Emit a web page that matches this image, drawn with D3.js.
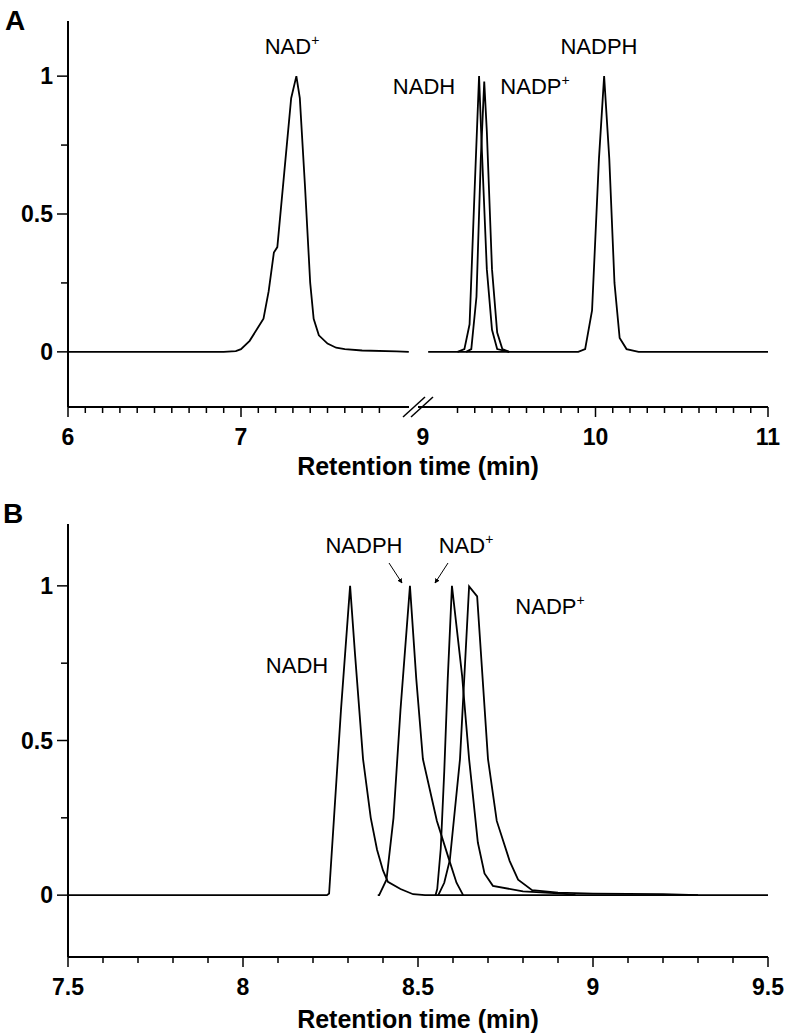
<!DOCTYPE html>
<html>
<head>
<meta charset="utf-8">
<script src="https://cdn.jsdelivr.net/npm/d3@7"></script>
<style>
  body { margin: 0; background: #fff; }
  text { font-family: Arial, "Liberation Sans", sans-serif; }
</style>
</head>
<body>
<svg id="chart" width="792" height="1036"></svg>
<script>
// Panel A peaks: [time (min), normalised intensity]
const aNADplus = [[6.0,0],[6.9,0],[6.97,0.003],[7.0,0.01],[7.05,0.04],[7.1,0.09],[7.13,0.12],[7.16,0.22],[7.19,0.36],[7.21,0.38],[7.25,0.65],[7.29,0.92],[7.32,1.0],[7.34,0.92],[7.37,0.6],[7.4,0.25],[7.42,0.12],[7.45,0.06],[7.5,0.03],[7.55,0.015],[7.6,0.01],[7.7,0.005],[7.9,0.002],[7.97,0]]
const aNADH = [[9.2,0],[9.24,0.01],[9.27,0.1],[9.3,0.6],[9.325,1.0],[9.34,0.75],[9.37,0.3],[9.4,0.08],[9.43,0.01],[9.5,0]]
const aNADPplus = [[9.25,0],[9.28,0.01],[9.31,0.2],[9.335,0.7],[9.355,0.98],[9.37,0.8],[9.4,0.3],[9.43,0.07],[9.46,0.01],[9.5,0]]
const aNADPH = [[9.03,0],[9.9,0],[9.94,0.01],[9.98,0.15],[10.02,0.7],[10.05,1.0],[10.08,0.7],[10.11,0.25],[10.14,0.05],[10.18,0.01],[10.25,0],[11,0]]

// Panel B peaks
const bNADH = [[7.5,0],[8.24,0],[8.246,0.005],[8.26,0.25],[8.28,0.6],[8.306,1.0],[8.32,0.78],[8.343,0.44],[8.365,0.25],[8.383,0.147],[8.4,0.08],[8.414,0.043],[8.45,0.02],[8.486,0.003],[8.52,0],[9.5,0]]
const bNADPH = [[8.385,0],[8.389,0],[8.41,0.05],[8.43,0.25],[8.45,0.6],[8.477,1.0],[8.495,0.7],[8.514,0.44],[8.554,0.24],[8.589,0.114],[8.61,0.04],[8.629,0]]
const bNADplus = [[8.55,0],[8.555,0.02],[8.565,0.15],[8.575,0.4],[8.585,0.7],[8.597,1.0],[8.626,0.71],[8.646,0.44],[8.671,0.17],[8.69,0.07],[8.714,0.03],[8.8,0.012],[8.914,0.005],[8.95,0]]
const bNADPplus = [[8.556,0],[8.558,0],[8.575,0.04],[8.591,0.114],[8.62,0.44],[8.646,0.998],[8.669,0.966],[8.7,0.44],[8.725,0.24],[8.762,0.11],[8.786,0.05],[8.826,0.016],[8.9,0.008],[9.0,0.005],[9.2,0.003],[9.3,0]]

const aTicksLeft = [6, 7]
const aTicksRight = [9, 10, 11]
const bTicks = [7.5, 8, 8.5, 9, 9.5]
const yTicks = [0, 0.5, 1]

const svg = d3.select('#chart')
const line = (x, y) => d3.line().x(d => x(d[0])).y(d => y(d[1]))

function yAxis (g, y) {
  g.append('line').attr('x1', 68).attr('x2', 68).attr('y1', y(1.2)).attr('y2', y(-0.2)).attr('stroke', '#000').attr('stroke-width', 2)
  ;[0, 0.25, 0.5, 0.75, 1].forEach(v => {
    const major = yTicks.includes(v)
    g.append('line').attr('x1', major ? 57 : 61).attr('x2', 68).attr('y1', y(v)).attr('y2', y(v)).attr('stroke', '#000').attr('stroke-width', 1.5)
  })
  yTicks.forEach(v => g.append('text').attr('x', 53).attr('y', y(v) + 8).attr('text-anchor', 'end')
    .style('font-size', '23px').style('font-weight', 'bold').text(v))
}

function xTicks (g, x, lo, hi, yb, labels) {
  for (let t = lo; t <= hi + 1e-9; t += 0.1) {
    const r = Math.round(t * 10) / 10
    const major = labels.some(l => Math.abs(l - r) < 1e-6)
    g.append('line').attr('x1', x(r)).attr('x2', x(r)).attr('y1', yb).attr('y2', yb + (major ? 10 : 6)).attr('stroke', '#000').attr('stroke-width', 1.5)
  }
  labels.forEach(l => g.append('text').attr('x', x(l)).attr('y', yb + 38).attr('text-anchor', 'middle')
    .style('font-size', '23px').style('font-weight', 'bold').text(l))
}

function label (g, x, y, base, sup) {
  const t = g.append('text').attr('x', x).attr('y', y).attr('text-anchor', 'middle').style('font-size', '22px').text(base)
  if (sup) t.append('tspan').style('font-size', '14px').attr('dy', -9).text(sup)
}

// ---- Panel A ----
const gA = svg.append('g')
const yA = d3.scaleLinear().domain([-0.2, 1.2]).range([407, 21])
const xAL = d3.scaleLinear().domain([6, 8]).range([68, 414])
const xAR = d3.scaleLinear().domain([9, 11]).range([423, 768])
yAxis(gA, yA)
const yb = yA(-0.2)
gA.append('line').attr('x1', 68).attr('x2', 409).attr('y1', yb).attr('y2', yb).attr('stroke', '#000').attr('stroke-width', 2)
gA.append('line').attr('x1', 418).attr('x2', 768).attr('y1', yb).attr('y2', yb).attr('stroke', '#000').attr('stroke-width', 2)
;[0, 8].forEach(o => gA.append('line').attr('x1', 403 + o).attr('x2', 425 + o).attr('y1', yb + 10).attr('y2', yb - 10).attr('stroke', '#000').attr('stroke-width', 1.5))
xTicks(gA, xAL, 6, 7.8, yb, aTicksLeft)
xTicks(gA, xAR, 9.2, 11, yb, aTicksRight)
gA.append('text').attr('x', 5).attr('y', 30).style('font-size', '28px').style('font-weight', 'bold').text('A')
gA.append('path').attr('d', line(xAL, yA)(aNADplus)).attr('fill', 'none').attr('stroke', '#000').attr('stroke-width', 1.8)
;[aNADH, aNADPplus, aNADPH].forEach(s => gA.append('path').attr('d', line(xAR, yA)(s)).attr('fill', 'none').attr('stroke', '#000').attr('stroke-width', 1.8))
label(gA, 292, 54, 'NAD', '+')
label(gA, 424, 94, 'NADH')
label(gA, 535, 94, 'NADP', '+')
label(gA, 599, 54, 'NADPH')
gA.append('text').attr('x', 418).attr('y', 475).attr('text-anchor', 'middle').style('font-size', '25px').style('font-weight', 'bold').text('Retention time (min)')

// ---- Panel B ----
const gB = svg.append('g')
const yB = d3.scaleLinear().domain([-0.2, 1.2]).range([957, 524])
const xB = d3.scaleLinear().domain([7.5, 9.5]).range([68, 768])
yAxis(gB, yB)
const ybB = yB(-0.2)
gB.append('line').attr('x1', 68).attr('x2', 768).attr('y1', ybB).attr('y2', ybB).attr('stroke', '#000').attr('stroke-width', 2)
xTicks(gB, xB, 7.5, 9.5, ybB, bTicks)
gB.append('text').attr('x', 3).attr('y', 523).style('font-size', '28px').style('font-weight', 'bold').text('B')
;[bNADH, bNADPH, bNADplus, bNADPplus].forEach(s => gB.append('path').attr('d', line(xB, yB)(s)).attr('fill', 'none').attr('stroke', '#000').attr('stroke-width', 1.8))
label(gB, 297, 673, 'NADH')
label(gB, 364, 553, 'NADPH')
label(gB, 466, 553, 'NAD', '+')
label(gB, 550, 614, 'NADP', '+')
const defs = svg.append('defs')
defs.append('marker').attr('id', 'ah').attr('viewBox', '0 0 10 10').attr('refX', 9).attr('refY', 5)
  .attr('markerWidth', 5).attr('markerHeight', 5).attr('orient', 'auto')
  .append('path').attr('d', 'M0,0L10,5L0,10z').attr('fill', '#000')
gB.append('line').attr('x1', 389).attr('y1', 563).attr('x2', 402).attr('y2', 583).attr('stroke', '#000').attr('marker-end', 'url(#ah)')
gB.append('line').attr('x1', 448).attr('y1', 563).attr('x2', 435).attr('y2', 583).attr('stroke', '#000').attr('marker-end', 'url(#ah)')
gB.append('text').attr('x', 418).attr('y', 1028).attr('text-anchor', 'middle').style('font-size', '25px').style('font-weight', 'bold').text('Retention time (min)')
</script>
</body>
</html>
